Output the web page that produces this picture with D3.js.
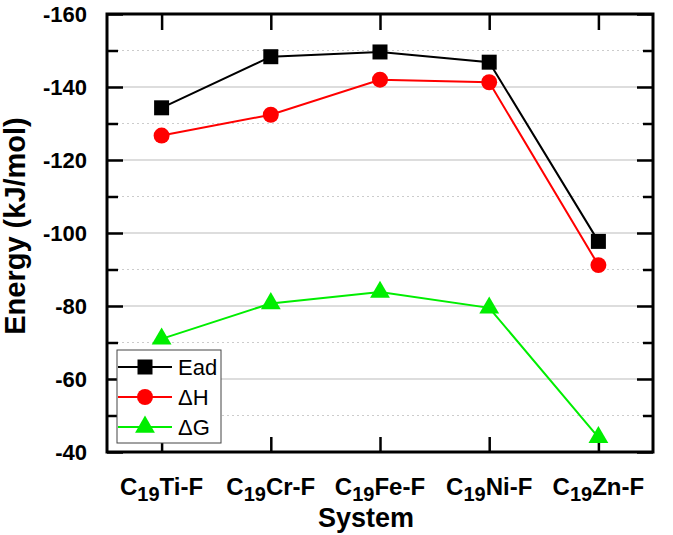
<!DOCTYPE html>
<html><head><meta charset="utf-8">
<script src="https://cdn.jsdelivr.net/npm/d3@7"></script>
<style>body{margin:0;background:#fff}svg{display:block}text{font-family:"Liberation Sans",Arial,sans-serif}</style>
</head><body><svg id="c" width="673" height="535"></svg>
<script>
const categories = ["Ti","Cr","Fe","Ni","Zn"];
const ead = [-134.3,-148.3,-149.6,-146.8,-97.7];
const dH = [-126.7,-132.4,-142.0,-141.3,-91.2];
const dG = [-71.0,-80.7,-83.8,-79.5,-44.0];
const yTicks = [-160,-140,-120,-100,-80,-60,-40];
const yMinor = [-150,-130,-110,-90,-70,-50];
const seriesNames = ["Ead","ΔH","ΔG"];

const svg = d3.select("#c");
const L=107,R=653,T=14,B=452;
const x = d3.scaleLinear().domain([-0.5,4.5]).range([L,R]);
const y = d3.scaleLinear().domain([-160,-40]).range([T,B]);

// grid
svg.append("g").selectAll("line").data(yTicks.slice(1,-1)).join("line")
  .attr("x1",L).attr("x2",R).attr("y1",d=>y(d)).attr("y2",d=>y(d))
  .attr("stroke","#bbb").attr("stroke-width",1.2);
svg.append("g").selectAll("line").data(yMinor).join("line")
  .attr("x1",L).attr("x2",R).attr("y1",d=>y(d)).attr("y2",d=>y(d))
  .attr("stroke","#ccc").attr("stroke-width",1).attr("stroke-dasharray","2,3");

// axes (ticks inward)
const idx = categories.map((d,i)=>i);
const axL = d3.axisLeft(y).tickValues(yTicks).tickSize(-16).tickPadding(20).tickFormat(d=>String(d));
const gL = svg.append("g").attr("transform",`translate(${L},0)`).call(axL);
const gLm = svg.append("g").attr("transform",`translate(${L},0)`).call(d3.axisLeft(y).tickValues(yMinor).tickSize(-11).tickFormat(""));
const gR = svg.append("g").attr("transform",`translate(${R},0)`).call(d3.axisRight(y).tickValues(yTicks).tickSize(-16).tickFormat(""));
const gRm = svg.append("g").attr("transform",`translate(${R},0)`).call(d3.axisRight(y).tickValues(yMinor).tickSize(-10).tickFormat(""));
const gB = svg.append("g").attr("transform",`translate(0,${B})`).call(d3.axisBottom(x).tickValues(idx).tickSize(-15).tickFormat(""));
const gT = svg.append("g").attr("transform",`translate(0,${T})`).call(d3.axisTop(x).tickValues(idx).tickSize(-16).tickFormat(""));
[gL,gLm,gR,gRm,gB,gT].forEach(g=>{g.select(".domain").remove();g.selectAll(".tick line").attr("stroke","#000").attr("stroke-width",2.5);});
gL.selectAll(".tick text").attr("font-size",22).attr("font-weight","bold").attr("fill","#000");

// frame
svg.append("rect").attr("x",L).attr("y",T).attr("width",R-L).attr("height",B-T)
  .attr("fill","none").attr("stroke","#000").attr("stroke-width",3);

// category labels
const cl = svg.append("g").selectAll("text").data(categories).join("text")
  .attr("x",(d,i)=>x(i)).attr("y",495).attr("text-anchor","middle")
  .attr("font-size",24).attr("font-weight","bold").attr("fill","#000");
cl.append("tspan").text("C");
cl.append("tspan").text("19").attr("font-size",20).attr("dy",6);
cl.append("tspan").text(d=>d+"-F").attr("dy",-6);

svg.append("text").attr("x",366).attr("y",527).attr("text-anchor","middle")
  .attr("font-size",27).attr("font-weight","bold").text("System");
svg.append("text").attr("transform","translate(25,226) rotate(-90)").attr("text-anchor","middle")
  .attr("font-size",29).attr("font-weight","bold").text("Energy (kJ/mol)");

// series
const colors = ["#000000","#ff0000","#00ee00"];
const data = [ead,dH,dG];
const line = d3.line().x((d,i)=>x(i)).y(d=>y(d));
const sym = [d3.symbolSquare,d3.symbolCircle,d3.symbolTriangle];
const sizes = [225,200,170];
data.forEach((s,k)=>{
  svg.append("path").datum(s).attr("d",line).attr("fill","none").attr("stroke",colors[k]).attr("stroke-width",2);
  svg.append("g").selectAll("path").data(s).join("path")
    .attr("transform",(d,i)=>`translate(${x(i)},${y(d)})`)
    .attr("d",d3.symbol().type(sym[k]).size(sizes[k])).attr("fill",colors[k]);
});

// legend
const lg = svg.append("g");
lg.append("rect").attr("x",117).attr("y",350).attr("width",104).attr("height",93)
  .attr("fill","#fff").attr("stroke","#444").attr("stroke-width",1);
seriesNames.forEach((n,k)=>{
  const yy = 367 + k*30;
  lg.append("line").attr("x1",118).attr("x2",172).attr("y1",yy).attr("y2",yy).attr("stroke",colors[k]).attr("stroke-width",2);
  lg.append("path").attr("transform",`translate(145,${yy})`).attr("d",d3.symbol().type(sym[k]).size(sizes[k])).attr("fill",colors[k]);
  lg.append("text").attr("x",178).attr("y",yy+8).attr("font-size",22).attr("fill","#000").text(n);
});
</script></body></html>
